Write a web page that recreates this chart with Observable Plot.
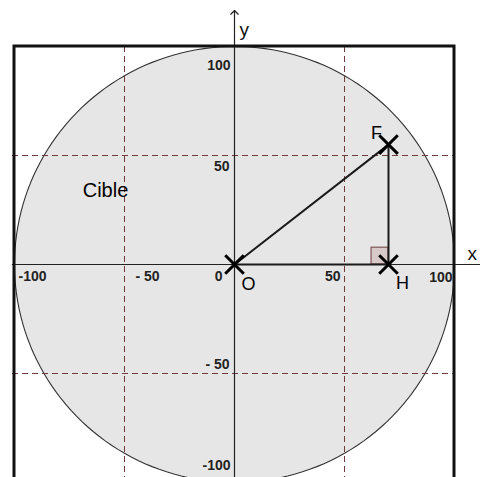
<!DOCTYPE html>
<html>
<head>
<meta charset="utf-8">
<script src="https://cdn.jsdelivr.net/npm/d3@7"></script>
<script src="https://cdn.jsdelivr.net/npm/@observablehq/plot@0.6"></script>
<style>
  html, body { margin: 0; padding: 0; background: white; overflow: hidden; }
  svg { font-family: "Liberation Sans", Arial, sans-serif; }
</style>
</head>
<body>
<div id="chart"></div>
<script>
// ---- data ----
const frameExtent = [-100, 100];          // square "frame" around the target
const targetCenter = {x: 0, y: 0};
const targetRadius = 100;
const gridValues = [-50, 50];             // dashed guide lines
const xTicks = [-100, -50, 50, 100];
const xTickLabels = ["-100", "- 50", "50", "100"];
const yTicks = [100, 50, -50, -100];
const yTickLabels = ["100", "50", "- 50", "-100"];
const pointNames = ["O", "F", "H"];
const pointX = [0, 70, 70];
const pointY = [0, 55, 0];
const rightAngleSize = 7.7;
const targetLabel = {text: "Cible", x: -50, y: 34};
const xAxisExtent = [-101, 112];
const yAxisExtent = [-110, 116.5];

// ---- derived tables ----
const pts = pointNames.map((name, i) => ({name, x: pointX[i], y: pointY[i]}));
const P = Object.fromEntries(pts.map(p => [p.name, p]));
const circle = d3.range(0, 361, 2).map(a => ({
  x: targetCenter.x + targetRadius * Math.cos(a * Math.PI / 180),
  y: targetCenter.y + targetRadius * Math.sin(a * Math.PI / 180)
}));
const xLab = xTicks.map((v, i) => ({v, label: xTickLabels[i]}));
const yLab = yTicks.map((v, i) => ({v, label: yTickLabels[i]}));
const segments = [
  {a: P.O, b: P.F},
  {a: P.F, b: P.H},
  {a: P.O, b: P.H}
];

const gridColor = "#6e3a3e";
const tickStyle = {fontSize: 14, fontWeight: "bold", fill: "#222"};

const chart = Plot.plot({
  width: 480,
  height: 477,
  margin: 0,
  x: {domain: frameExtent, range: [14, 454], axis: null},
  y: {domain: frameExtent, range: [482, 46], axis: null},
  style: {background: "white", fontFamily: "Liberation Sans, Arial, sans-serif"},
  marks: [
    // target disc
    Plot.line(circle, {x: "x", y: "y", fill: "#e6e6e6", stroke: "#333", strokeWidth: 1.1}),
    // dashed guides
    Plot.ruleX(gridValues, {y1: frameExtent[0], y2: frameExtent[1], stroke: gridColor, strokeWidth: 1, strokeDasharray: "6,4"}),
    Plot.ruleY(gridValues, {x1: frameExtent[0] - 0.9, x2: frameExtent[1], stroke: gridColor, strokeWidth: 1, strokeDasharray: "6,4"}),
    // axes
    Plot.ruleY([0], {x1: xAxisExtent[0], x2: xAxisExtent[1], stroke: "#222", strokeWidth: 1.2}),
    Plot.arrow([0], {x1: 0, x2: 0, y1: yAxisExtent[0], y2: yAxisExtent[1], stroke: "#222", strokeWidth: 1.2, headLength: 6.5, headAngle: 90}),
    // frame
    Plot.rect([0], {x1: frameExtent[0], x2: frameExtent[1], y1: frameExtent[0], y2: frameExtent[1], fill: "none", stroke: "#111", strokeWidth: 3}),
    // right angle marker
    Plot.rect([P.H], {x1: d => d.x - rightAngleSize, x2: "x", y1: "y", y2: d => d.y + rightAngleSize, fill: "#d8c9c9", stroke: "#8a5f60", strokeWidth: 1.3}),
    // triangle
    Plot.link(segments, {x1: d => d.a.x, y1: d => d.a.y, x2: d => d.b.x, y2: d => d.b.y, stroke: "#1a1a1a", strokeWidth: 2}),
    // points
    Plot.dot(pts, {x: "x", y: "y", symbol: "times", r: 8.5, stroke: "#000", strokeWidth: 3}),
    // x tick labels
    Plot.text(xLab.filter(d => d.v === -100), {x: "v", y: 0, text: "label", textAnchor: "start", dx: 4, dy: 12, ...tickStyle}),
    Plot.text(xLab.filter(d => d.v === -50), {x: "v", y: 0, text: "label", textAnchor: "start", dx: 11, dy: 12, ...tickStyle}),
    Plot.text(xLab.filter(d => d.v === 50), {x: "v", y: 0, text: "label", textAnchor: "end", dx: -4, dy: 12, ...tickStyle}),
    Plot.text(xLab.filter(d => d.v === 100), {x: "v", y: 0, text: "label", textAnchor: "end", dx: -2, dy: 13, ...tickStyle}),
    Plot.text([0], {x: 0, y: 0, text: () => "0", textAnchor: "end", dx: -12, dy: 12, ...tickStyle}),
    // y tick labels
    Plot.text(yLab.filter(d => d.v === 100), {x: 0, y: "v", text: "label", textAnchor: "end", dx: -4, dy: 19, ...tickStyle}),
    Plot.text(yLab.filter(d => d.v === 50), {x: 0, y: "v", text: "label", textAnchor: "end", dx: -5, dy: 11, ...tickStyle}),
    Plot.text(yLab.filter(d => d.v === -50), {x: 0, y: "v", text: "label", textAnchor: "end", dx: -5, dy: -9, ...tickStyle}),
    Plot.text(yLab.filter(d => d.v === -100), {x: 0, y: "v", text: "label", textAnchor: "end", dx: -4, dy: -17, ...tickStyle}),
    // axis names
    Plot.text([0], {x: xAxisExtent[1], y: 0, text: () => "x", textAnchor: "end", dx: -4, dy: -11, fontSize: 19, fill: "#111"}),
    Plot.text([0], {x: 0, y: yAxisExtent[1], text: () => "y", textAnchor: "start", dx: 5, dy: 19, fontSize: 19, fill: "#111"}),
    // point names
    Plot.text([P.F], {x: "x", y: "y", text: "name", dx: -12, dy: -11, fontSize: 18, fill: "#000"}),
    Plot.text([P.O], {x: "x", y: "y", text: "name", dx: 14, dy: 20, fontSize: 18, fill: "#000"}),
    Plot.text([P.H], {x: "x", y: "y", text: "name", dx: 14, dy: 19, fontSize: 18, fill: "#000"}),
    // target label
    Plot.text([targetLabel], {x: "x", y: "y", text: "text", dx: -19, fontSize: 20, fill: "#000"})
  ]
});
document.getElementById("chart").appendChild(chart);
</script>
</body>
</html>
